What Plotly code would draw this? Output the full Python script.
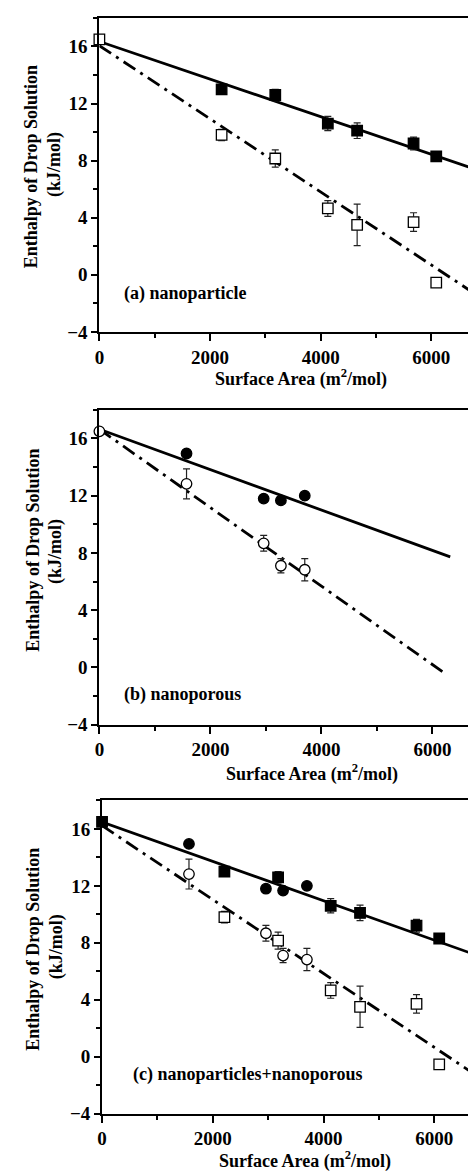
import plotly.graph_objects as go

# ---------------- data ----------------
bulk_x = [0]
bulk_y = [16.5]

# nanoparticles
np_x = [2210, 3180, 4130, 4660, 5680, 6090]
np_filled_y = [13.0, 12.6, 10.6, 10.1, 9.2, 8.3]
np_filled_err = [0.2, 0.4, 0.5, 0.55, 0.45, 0.3]
np_open_y = [9.8, 8.15, 4.65, 3.5, 3.7, -0.55]
np_open_err = [0.4, 0.6, 0.55, 1.45, 0.65, 0.3]

# nanoporous
po_x = [1570, 2960, 3270, 3700]
po_filled_y = [14.95, 11.8, 11.67, 12.0]
po_filled_err = [0.2, 0.2, 0.15, 0.1]
po_open_y = [12.83, 8.67, 7.1, 6.82]
po_open_err = [1.05, 0.55, 0.5, 0.78]

# fitted lines (end points)
fit_a_solid_x = [0, 6720]
fit_a_solid_y = [16.35, 7.5]
fit_a_dash_x = [0, 6720]
fit_a_dash_y = [16.05, -1.15]
fit_b_solid_x = [0, 6320]
fit_b_solid_y = [16.65, 7.72]
fit_b_dash_x = [0, 6230]
fit_b_dash_y = [16.65, -0.44]
fit_c_solid_x = [0, 6714]
fit_c_solid_y = [16.49, 7.2]
fit_c_dash_x = [0, 6714]
fit_c_dash_y = [16.23, -1.2]

x_ticks = [0, 2000, 4000, 6000]
y_ticks = [-4, 0, 4, 8, 12, 16]
panel_labels = ["(a) nanoparticle", "(b) nanoporous", "(c) nanoparticles+nanoporous"]
x_title = "Surface Area (m<sup>2</sup>/mol)"
y_title_1 = "Enthalpy of Drop Solution"
y_title_2 = "(kJ/mol)"

# ---------------- styling ----------------
W, H = 476, 1172
FONT = "Liberation Serif"
BLACK = "#000000"
MS = 10.5
ERR = dict(type="data", visible=True, color="#222222", thickness=1.2, width=3.5)
DASH = "14px,6px,3px,6px"


def py(px):
    return 1 - px / H


fig = go.Figure()


def add_points(ax, x, y, err, symbol, filled, clip=True):
    fig.add_trace(go.Scatter(
        x=x, y=y, mode="markers", xaxis="x" + ax, yaxis="y" + ax,
        error_y=dict(array=err, **ERR) if err is not None else None,
        marker=dict(symbol=symbol, size=MS,
                    color=BLACK if filled else "white",
                    line=dict(color=BLACK, width=1.3)),
        cliponaxis=clip, showlegend=False))


def add_line(ax, x, y, dash):
    fig.add_trace(go.Scatter(
        x=x, y=y, mode="lines", xaxis="x" + ax, yaxis="y" + ax,
        line=dict(color=BLACK, width=2.8, dash=dash),
        showlegend=False))


# panel (a)
add_line("", fit_a_solid_x, fit_a_solid_y, "solid")
add_line("", fit_a_dash_x, fit_a_dash_y, DASH)
add_points("", bulk_x, bulk_y, None, "square", False, clip=False)
add_points("", np_x, np_filled_y, np_filled_err, "square", True)
add_points("", np_x, np_open_y, np_open_err, "square", False)

# panel (b)
add_line("2", fit_b_solid_x, fit_b_solid_y, "solid")
add_line("2", fit_b_dash_x, fit_b_dash_y, DASH)
add_points("2", bulk_x, bulk_y, None, "circle", False, clip=False)
add_points("2", po_x, po_filled_y, po_filled_err, "circle", True)
add_points("2", po_x, po_open_y, po_open_err, "circle", False)

# panel (c)
add_line("3", fit_c_solid_x, fit_c_solid_y, "solid")
add_line("3", fit_c_dash_x, fit_c_dash_y, DASH)
add_points("3", bulk_x, bulk_y, None, "square", True, clip=False)
add_points("3", np_x, np_filled_y, np_filled_err, "square", True)
add_points("3", po_x, po_filled_y, po_filled_err, "circle", True)
add_points("3", np_x, np_open_y, np_open_err, "square", False)
add_points("3", po_x, po_open_y, po_open_err, "circle", False)

tickfont = dict(family=FONT, size=19, color=BLACK, weight="bold")

# panel geometry in pixels: (left, top, bottom, px per 2000 units)
panels = [
    (87.3, 10.0, 327.0, 111.8),
    (87.3, 405.7, 723.3, 112.2),
    (90.0, 800.0, 1116.0, 111.9),
]

layout = dict(
    width=W, height=H, margin=dict(l=0, r=0, t=0, b=0),
    paper_bgcolor="white", plot_bgcolor="white",
    font=dict(family=FONT, size=18, color=BLACK),
)

for i, (left, top, bottom, scale) in enumerate(panels):
    sfx = "" if i == 0 else str(i + 1)
    xmax = (W - left) / scale * 2000
    layout["xaxis" + sfx] = dict(
        domain=[left / W, 1.0], range=[0, xmax], anchor="y" + sfx,
        tickvals=x_ticks, ticks="outside", ticklen=7, tickwidth=1.5,
        tickcolor=BLACK, showline=True, linewidth=2, linecolor=BLACK,
        mirror=True, showgrid=False, zeroline=False, tickfont=tickfont,
        minor=dict(dtick=1000, tick0=0, ticks="outside", ticklen=4,
                   tickwidth=1.5, tickcolor=BLACK, showgrid=False),
    )
    layout["yaxis" + sfx] = dict(
        domain=[py(bottom), py(top)], range=[-4, 18], anchor="x" + sfx,
        tickvals=y_ticks, ticks="outside", ticklen=6, tickwidth=1.5,
        tickcolor=BLACK, showline=True, linewidth=2, linecolor=BLACK,
        mirror=False, showgrid=False, zeroline=False, tickfont=tickfont,
        minor=dict(dtick=2, tick0=0, ticks="outside", ticklen=4,
                   tickwidth=1.5, tickcolor=BLACK, showgrid=False),
    )

fig.update_layout(**layout)

tfont = dict(family=FONT, size=18, color=BLACK, weight="bold")

# axis titles and panel labels as annotations
xt_pos = [(291, 374), (301.7, 772), (294.7, 1163)]
yt1_pos = [(19, 160), (20, 547), (20, 950)]
yt2_pos = [(42, 158), (43.5, 549), (43.5, 948)]
lab_pos = [(110, 288), (110, 692.5), (119.3, 1076.5)]
for i in range(3):
    fig.add_annotation(text=x_title, xref="paper", yref="paper",
                       x=xt_pos[i][0] / W, y=py(xt_pos[i][1]),
                       xanchor="center", yanchor="middle", showarrow=False,
                       font=tfont)
    fig.add_annotation(text=y_title_1, xref="paper", yref="paper",
                       x=yt1_pos[i][0] / W, y=py(yt1_pos[i][1]),
                       xanchor="center", yanchor="middle", showarrow=False,
                       textangle=-90, font=tfont)
    fig.add_annotation(text=y_title_2, xref="paper", yref="paper",
                       x=yt2_pos[i][0] / W, y=py(yt2_pos[i][1]),
                       xanchor="center", yanchor="middle", showarrow=False,
                       textangle=-90, font=tfont)
    fig.add_annotation(text=panel_labels[i], xref="paper", yref="paper",
                       x=lab_pos[i][0] / W, y=py(lab_pos[i][1]),
                       xanchor="left", yanchor="middle", showarrow=False,
                       font=tfont)

fig.write_html("out.html")
